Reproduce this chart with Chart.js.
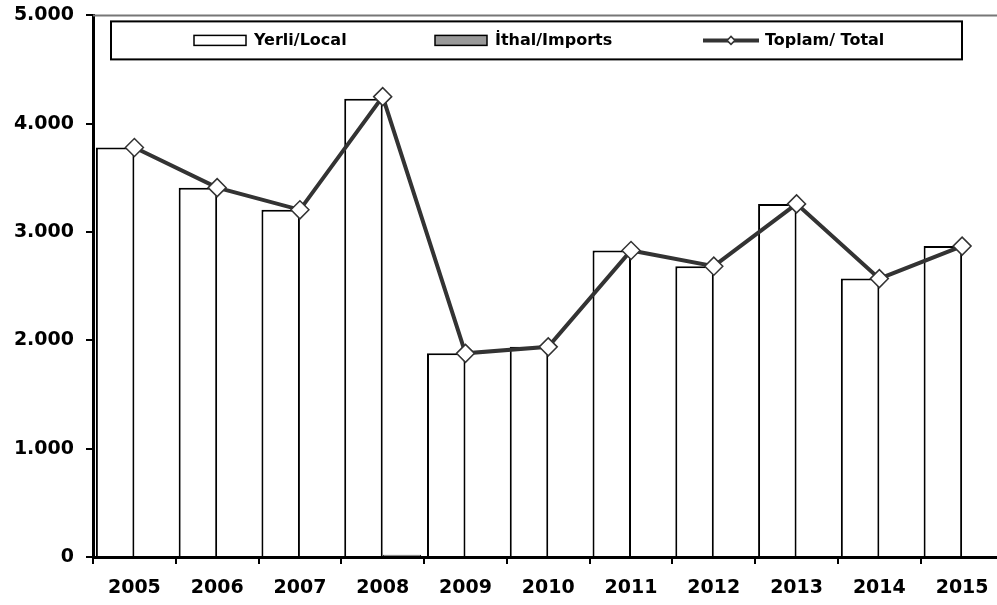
<!DOCTYPE html>
<html lang="tr">
<head>
  <meta charset="UTF-8">
  <title>Yerli / İthal / Toplam</title>
  <style>
    html, body { margin: 0; padding: 0; background: #fff; overflow: hidden; }
    #chart { display: block; margin-top: -8px; }
  </style>
</head>
<body>

<canvas id="chart" width="1014" height="613"></canvas>

<script src="https://cdn.jsdelivr.net/npm/chart.js"></script>
<script>
  // veriler
  const years = ['2005', '2006', '2007', '2008', '2009', '2010', '2011', '2012', '2013', '2014', '2015'];
  const yerli = [3780, 3410, 3205, 4230, 1880, 1940, 2830, 2685, 3260, 2570, 2870];
  const ithal = [0, 0, 0, 20, 0, 0, 0, 0, 0, 0, 0];
  const toplam = [3780, 3410, 3205, 4250, 1880, 1940, 2830, 2685, 3260, 2570, 2870];
  const yTicks = [0, 1000, 2000, 3000, 4000, 5000];

  const FONT = 'DejaVu Sans';

  // lejant ve üst çizgi
  const frame = {
    id: 'frame',
    afterDatasetsDraw(chart) {
      const ctx = chart.ctx;
      const a = chart.chartArea;
      ctx.save();
      // üst çizgi
      ctx.strokeStyle = '#777';
      ctx.lineWidth = 2;
      ctx.beginPath();
      ctx.moveTo(a.left, a.top);
      ctx.lineTo(a.right + 10, a.top);
      ctx.stroke();

      // lejant kutusu
      const bx = a.left + 18, by = a.top + 6, bw = 851, bh = 38;
      ctx.fillStyle = '#fff';
      ctx.fillRect(bx, by, bw, bh);
      ctx.strokeStyle = '#000';
      ctx.lineWidth = 2;
      ctx.strokeRect(bx, by, bw, bh);

      const cy = by + bh / 2;
      const ds = chart.data.datasets;
      ctx.font = 'bold 16px "' + FONT + '"';
      ctx.textBaseline = 'middle';
      ctx.fillStyle = '#000';

      // Yerli
      ctx.fillStyle = '#fff';
      ctx.fillRect(a.left + 101, cy - 5, 52, 10);
      ctx.lineWidth = 1.5;
      ctx.strokeRect(a.left + 101, cy - 5, 52, 10);
      ctx.fillStyle = '#000';
      ctx.fillText(ds[0].label, a.left + 161, cy);

      // İthal
      ctx.fillStyle = '#999';
      ctx.fillRect(a.left + 342, cy - 5, 52, 10);
      ctx.strokeRect(a.left + 342, cy - 5, 52, 10);
      ctx.fillStyle = '#000';
      ctx.fillText(ds[1].label, a.left + 402, cy);

      // Toplam
      ctx.strokeStyle = '#333';
      ctx.lineWidth = 4;
      ctx.beginPath();
      ctx.moveTo(a.left + 610, cy);
      ctx.lineTo(a.left + 666, cy);
      ctx.stroke();
      ctx.fillStyle = '#fff';
      ctx.lineWidth = 1.5;
      ctx.beginPath();
      ctx.moveTo(a.left + 638, cy - 4);
      ctx.lineTo(a.left + 642, cy);
      ctx.lineTo(a.left + 638, cy + 4);
      ctx.lineTo(a.left + 634, cy);
      ctx.closePath();
      ctx.fill();
      ctx.stroke();
      ctx.fillStyle = '#000';
      ctx.fillText(ds[2].label, a.left + 672, cy);
      ctx.restore();
    }
  };

  new Chart(document.getElementById('chart'), {
    data: {
      labels: years,
      datasets: [
        {
          type: 'bar',
          label: 'Yerli/Local',
          data: yerli,
          backgroundColor: '#fff',
          borderColor: '#000',
          borderWidth: 2,
          categoryPercentage: 0.93,
          barPercentage: 1,
          order: 2
        },
        {
          type: 'bar',
          label: 'İthal/Imports',
          data: ithal,
          backgroundColor: '#999',
          borderColor: '#000',
          borderWidth: 1,
          categoryPercentage: 0.93,
          barPercentage: 1,
          order: 2
        },
        {
          type: 'line',
          label: 'Toplam/ Total',
          data: toplam,
          borderColor: '#333',
          borderWidth: 4,
          pointStyle: 'rectRot',
          pointRadius: 9,
          pointBackgroundColor: '#fff',
          pointBorderColor: '#333',
          pointBorderWidth: 1.5,
          tension: 0,
          order: 0
        }
      ]
    },
    options: {
      responsive: false,
      animation: false,
      layout: { padding: { top: 6, right: 6, left: 0, bottom: 0 } },
      plugins: {
        legend: { display: false },
        tooltip: { enabled: false }
      },
      scales: {
        x: {
          grid: {
            offset: true,
            drawOnChartArea: false,
            drawTicks: true,
            tickLength: 7,
            color: '#000',
            lineWidth: 2
          },
          border: { color: '#000', width: 3 },
          ticks: {
            color: '#000',
            font: { family: FONT, size: 19, weight: 'bold' },
            padding: 13,
            maxRotation: 0
          },
          afterFit(scale) { scale.height = 48; }
        },
        y: {
          min: 0,
          max: 5000,
          afterBuildTicks(scale) { scale.ticks = yTicks.map(v => ({ value: v })); },
          grid: {
            drawOnChartArea: false,
            drawTicks: true,
            tickLength: 7,
            color: '#000',
            lineWidth: 2
          },
          border: { color: '#000', width: 3 },
          ticks: {
            color: '#000',
            font: { family: FONT, size: 19, weight: 'bold' },
            padding: 12,
            callback: v => v.toLocaleString('de-DE')
          },
          afterFit(scale) { scale.width = 93; }
        }
      }
    },
    plugins: [frame]
  });
</script>

</body>
</html>
